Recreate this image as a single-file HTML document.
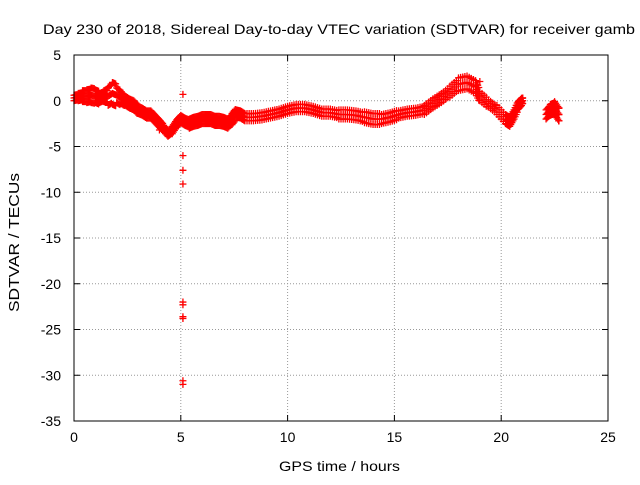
<!DOCTYPE html>
<html><head><meta charset="utf-8"><style>
body{margin:0;background:#fff}
svg text{font-family:"Liberation Sans",sans-serif;font-size:14px;fill:#000}
</style></head><body>
<svg width="640" height="480" xmlns="http://www.w3.org/2000/svg" id="c">
<text x="43" y="34" textLength="592" lengthAdjust="spacingAndGlyphs">Day 230 of 2018, Sidereal Day-to-day VTEC variation (SDTVAR) for receiver gamb</text>
<text x="279" y="471" textLength="121" lengthAdjust="spacingAndGlyphs">GPS time / hours</text>
<text transform="translate(19,312) rotate(-90)" style="font-size:15px" textLength="139" lengthAdjust="spacingAndGlyphs">SDTVAR / TECUs</text>
<g id="grid"></g><g id="ticks"></g><g id="marks"></g>
<rect x="74" y="55" width="534" height="366" fill="none" stroke="#000"/>
</svg>
<script>
const xTicks=[0,5,10,15,20,25];
const yTicks=[5,0,-5,-10,-15,-20,-25,-30,-35];
const bandX=[0,0.2,0.4,0.6,0.8,1.0,1.2,1.4,1.6,1.8,2.0,2.2,2.4,2.6,2.8,3.0,3.2,3.4,3.6,3.8,4.0,4.2,4.4,4.6,4.8,5.0,5.2,5.4,5.6,5.8,6.0,6.2,6.4,6.6,6.8,7.0,7.2,7.4,7.6,7.8,8.0,8.4,8.8,9.2,9.6,10.0,10.4,10.8,11.2,11.6,12.0,12.4,12.8,13.2,13.6,14.0,14.4,14.8,15.2,15.6,16.0,16.4,16.8,17.2,17.6,18.0,18.4,18.8,19.0,19.4,19.8,20.2,20.4,20.6,20.8,21.0,22.1,22.3,22.5,22.7];
const bandY=[0.3,0.4,0.5,0.5,0.6,0.5,0.3,0.5,0.5,0.8,0.6,0.3,0,-0.3,-0.5,-1.0,-1.2,-1.5,-1.5,-2.0,-2.5,-3.0,-3.6,-3.2,-2.5,-2.0,-2.3,-2.5,-2.3,-2.2,-2.0,-2.0,-2.0,-2.2,-2.2,-2.3,-2.5,-2.0,-1.4,-1.5,-1.8,-1.8,-1.7,-1.5,-1.3,-1.0,-0.8,-0.8,-1.0,-1.3,-1.3,-1.5,-1.5,-1.6,-1.8,-2.0,-2.0,-1.8,-1.5,-1.3,-1.2,-1.0,-0.3,0.3,1.0,1.8,2.0,1.5,0.5,-0.3,-1.0,-2.0,-2.3,-1.5,-0.5,0,-1.5,-1.0,-0.8,-1.5];
const bandSpread=[0.3,0.4,0.6,0.7,0.8,0.7,0.5,0.6,1.0,1.2,0.8,0.6,0.5,0.5,0.5,0.4,0.4,0.4,0.4,0.4,0.4,0.3,0.3,0.4,0.4,0.4,0.4,0.5,0.5,0.5,0.5,0.5,0.5,0.5,0.5,0.5,0.5,0.6,0.4,0.4,0.4,0.4,0.4,0.4,0.4,0.4,0.4,0.4,0.4,0.4,0.4,0.5,0.5,0.5,0.6,0.6,0.5,0.5,0.4,0.4,0.4,0.5,0.5,0.5,0.6,0.7,0.7,0.7,0.5,0.4,0.5,0.5,0.5,0.5,0.4,0.3,0.5,0.6,0.7,0.7];
const outX=[4.0,5.1,5.1,5.1,5.1,5.1,5.1,5.1,5.1,5.1,5.1,19.0];
const outY=[-3.2,0.7,-6.0,-7.6,-9.1,-22.0,-22.3,-23.6,-23.8,-30.6,-31.0,2.1];
const NS="http://www.w3.org/2000/svg";
const sx=v=>74+v*(534/25);
const sy=v=>55+(5-v)*(366/40);
function mk(t,a,p){const e=document.createElementNS(NS,t);for(const k in a)e.setAttribute(k,a[k]);document.getElementById(p).appendChild(e);return e;}
xTicks.forEach(t=>{
 if(t>0&&t<25){const g=mk('line',{x1:sx(t),x2:sx(t),y1:55,y2:421,stroke:'#999','stroke-dasharray':'1,2'},'grid');
 
 }
 mk('line',{x1:sx(t),x2:sx(t),y1:421,y2:415,stroke:'#000'},'ticks');
 mk('line',{x1:sx(t),x2:sx(t),y1:55,y2:61,stroke:'#000'},'ticks');
 const l=mk('text',{x:sx(t),y:442,'text-anchor':'middle'},'ticks');l.textContent=t;
 
 
});
yTicks.forEach(t=>{
 if(t<5&&t>-35){const g=mk('line',{x1:74,x2:608,y1:sy(t),y2:sy(t),stroke:'#999','stroke-dasharray':'1,2'},'grid');
 
 }
 mk('line',{x1:74,x2:80,y1:sy(t),y2:sy(t),stroke:'#000'},'ticks');
 mk('line',{x1:608,x2:602,y1:sy(t),y2:sy(t),stroke:'#000'},'ticks');
 const l=mk('text',{x:61,y:sy(t)+5,'text-anchor':'end'},'ticks');l.textContent=t;
 
 
});
function plus(x,y){const px=sx(x),py=sy(y);
 const p=mk('path',{d:`M${px-3.5},${py}h7M${px},${py-3.5}v7`,stroke:'#f00','stroke-width':1.3},'marks');
 
 }
for(let i=0;i<bandX.length;i++){
 const n=i+1<bandX.length&&bandX[i+1]-bandX[i]<0.5?bandX[i+1]:bandX[i];
 const ny=n===bandX[i]?bandY[i]:bandY[i+1];
 for(let s=0;s<4;s++){const f=s/4;const x=bandX[i]+(n-bandX[i])*f;const y=bandY[i]+(ny-bandY[i])*f;
  plus(x,y);plus(x,y+bandSpread[i]);plus(x,y-bandSpread[i]);}
}
outX.forEach((x,i)=>plus(x,outY[i]));
</script>
</body></html>
